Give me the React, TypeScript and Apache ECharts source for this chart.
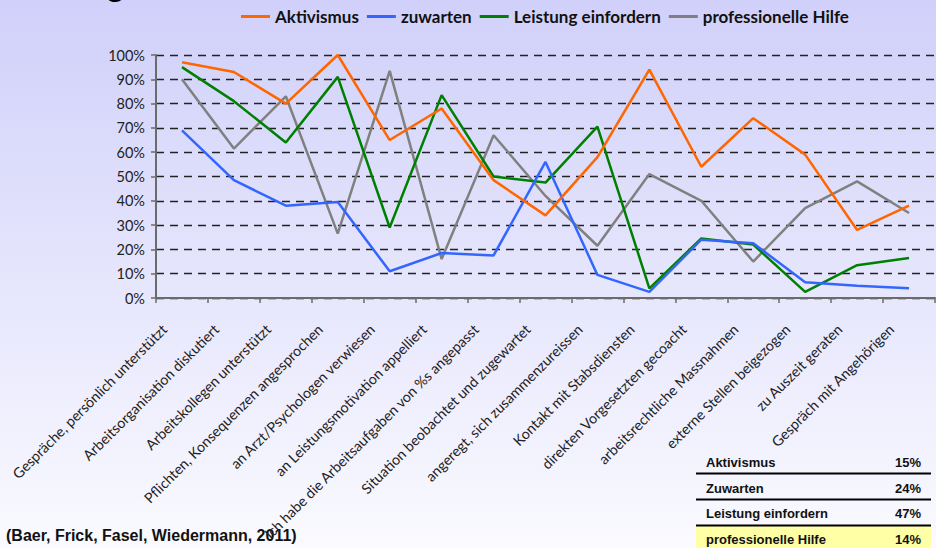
import React, { useEffect, useRef } from "react";
import * as echarts from "echarts";

const categories = [
  "Gespräche, persönlich unterstützt",
  "Arbeitsorganisation diskutiert",
  "Arbeitskollegen unterstützt",
  "Pflichten, Konsequenzen angesprochen",
  "an Arzt/Psychologen verwiesen",
  "an Leistungsmotivation appelliert",
  "Ich habe die Arbeitsaufgaben von %s angepasst",
  "Situation beobachtet und zugewartet",
  "angeregt, sich zusammenzureissen",
  "Kontakt mit Stabsdiensten",
  "direkten Vorgesetzten gecoacht",
  "arbeitsrechtliche Massnahmen",
  "externe Stellen beigezogen",
  "zu Auszeit geraten",
  "Gespräch mit Angehörigen",
];

const aktivismus = [97, 93, 80, 100, 65, 78, 48.5, 34, 58, 94, 54, 74, 59, 28, 38];
const zuwarten = [69, 48.5, 38, 39.5, 11, 18.5, 17.5, 56, 9.5, 2.5, 24, 22.5, 6.5, 5, 4];
const leistung = [95, 81, 64, 91, 29, 83.5, 50, 47.5, 70.5, 4, 24.5, 22, 2.5, 13.5, 16.5];
const hilfe = [90, 61.5, 83, 26.5, 93.5, 16, 67, 42, 21.5, 51, 40, 15, 37, 48, 35];

const seriesNames = ["Aktivismus", "zuwarten", "Leistung einfordern", "professionelle Hilfe"];
const seriesColors = ["#ff6600", "#3366ff", "#008000", "#808080"];

const yTicks = [0, 10, 20, 30, 40, 50, 60, 70, 80, 90, 100];

const tableNames = ["Aktivismus", "Zuwarten", "Leistung einfordern", "professionelle Hilfe"];
const tableValues = ["15%", "24%", "47%", "14%"];

const sourceText = "(Baer, Frick, Fasel, Wiedermann, 2011)";

export default function App() {
  const ref = useRef<HTMLDivElement>(null);
  useEffect(() => {
    if (!ref.current) return;
    const chart = echarts.init(ref.current, null, { renderer: "svg" });
    const data = [aktivismus, zuwarten, leistung, hilfe];

    const rowCenters = [462, 488, 513.5, 539];
    const tableLeft = 696;
    const tableRight = 931;
    const graphics: any[] = [];
    graphics.push({
      type: "rect",
      shape: { x: tableLeft, y: 526, width: tableRight - tableLeft, height: 24 },
      style: { fill: "#ffffa6" },
      silent: true,
    });
    tableNames.forEach((n, i) => {
      graphics.push({
        type: "text",
        style: {
          text: n,
          x: 706,
          y: rowCenters[i],
          font: "bold 13px 'Liberation Sans', Arial, sans-serif",
          fill: "#111",
          verticalAlign: "middle",
          align: "left",
        },
      });
      graphics.push({
        type: "text",
        style: {
          text: tableValues[i],
          x: 921,
          y: rowCenters[i],
          font: "bold 13px 'Liberation Sans', Arial, sans-serif",
          fill: "#111",
          verticalAlign: "middle",
          align: "right",
        },
      });
    });
    [473.5, 499.5, 525.5].forEach((y) => {
      graphics.push({
        type: "line",
        shape: { x1: tableLeft, y1: y, x2: tableRight, y2: y },
        style: { stroke: "#000", lineWidth: 2 },
      });
    });
    graphics.push({
      type: "text",
      style: {
        text: sourceText,
        x: 6,
        y: 535,
        font: "bold 16px 'Liberation Sans', Arial, sans-serif",
        fill: "#111",
        verticalAlign: "middle",
        align: "left",
      },
    });
    graphics.push({
      type: "text",
      style: {
        text: "g",
        x: 105,
        y: 0,
        font: "bold 34px 'Liberation Sans', Arial, sans-serif",
        fill: "#000",
        verticalAlign: "bottom",
        align: "left",
      },
    });

    chart.setOption({
      animation: false,
      backgroundColor: {
        type: "linear",
        x: 0,
        y: 0,
        x2: 0,
        y2: 1,
        colorStops: [
          { offset: 0, color: "#d0d0fa" },
          { offset: 1, color: "#fafaff" },
        ],
      },
      textStyle: { fontFamily: "Lato, sans-serif" },
      legend: {
        data: seriesNames,
        left: 236,
        top: 3,
        icon: "rect",
        itemWidth: 29,
        itemHeight: 3,
        itemGap: 8,
        textStyle: { fontSize: 17, fontWeight: "bold", color: "#111", fontFamily: "Lato, sans-serif" },
      },
      grid: { left: 156, right: 1, top: 55, bottom: 250, containLabel: false },
      xAxis: {
        type: "category",
        data: categories,
        boundaryGap: true,
        axisLine: { lineStyle: { color: "#6b6b6b", width: 2 } },
        axisTick: { show: true, interval: 0, length: 5, lineStyle: { color: "#6b6b6b", width: 1.5 } },
        axisLabel: {
          interval: 0,
          rotate: 45,
          margin: 11,
          padding: [0, 25, 0, 0],
          fontSize: 14.3,
          color: "#222",
          fontFamily: "Lato, sans-serif",
        },
        splitLine: { show: false },
      },
      yAxis: {
        type: "value",
        min: yTicks[0],
        max: yTicks[yTicks.length - 1],
        interval: 10,
        axisLine: { show: true, lineStyle: { color: "#6b6b6b", width: 2 } },
        axisTick: { show: true, length: 5, lineStyle: { color: "#6b6b6b", width: 1.5 } },
        axisLabel: {
          formatter: "{value}%",
          margin: 11,
          fontSize: 14.5,
          color: "#222",
          fontFamily: "Lato, sans-serif",
        },
        splitLine: { show: true, lineStyle: { color: "#222", type: [8, 6], width: 1.3 } },
      },
      series: seriesNames.map((name, i) => ({
        name,
        type: "line",
        data: data[i],
        symbol: "none",
        lineStyle: { color: seriesColors[i], width: 2.5 },
        itemStyle: { color: seriesColors[i] },
        z: 10 - i,
      })),
      graphic: graphics,
    });
    return () => chart.dispose();
  }, []);
  return (
    <div
      ref={ref}
      style={{ position: "fixed", left: 0, top: 0, width: 936, height: 548 }}
    />
  );
}
